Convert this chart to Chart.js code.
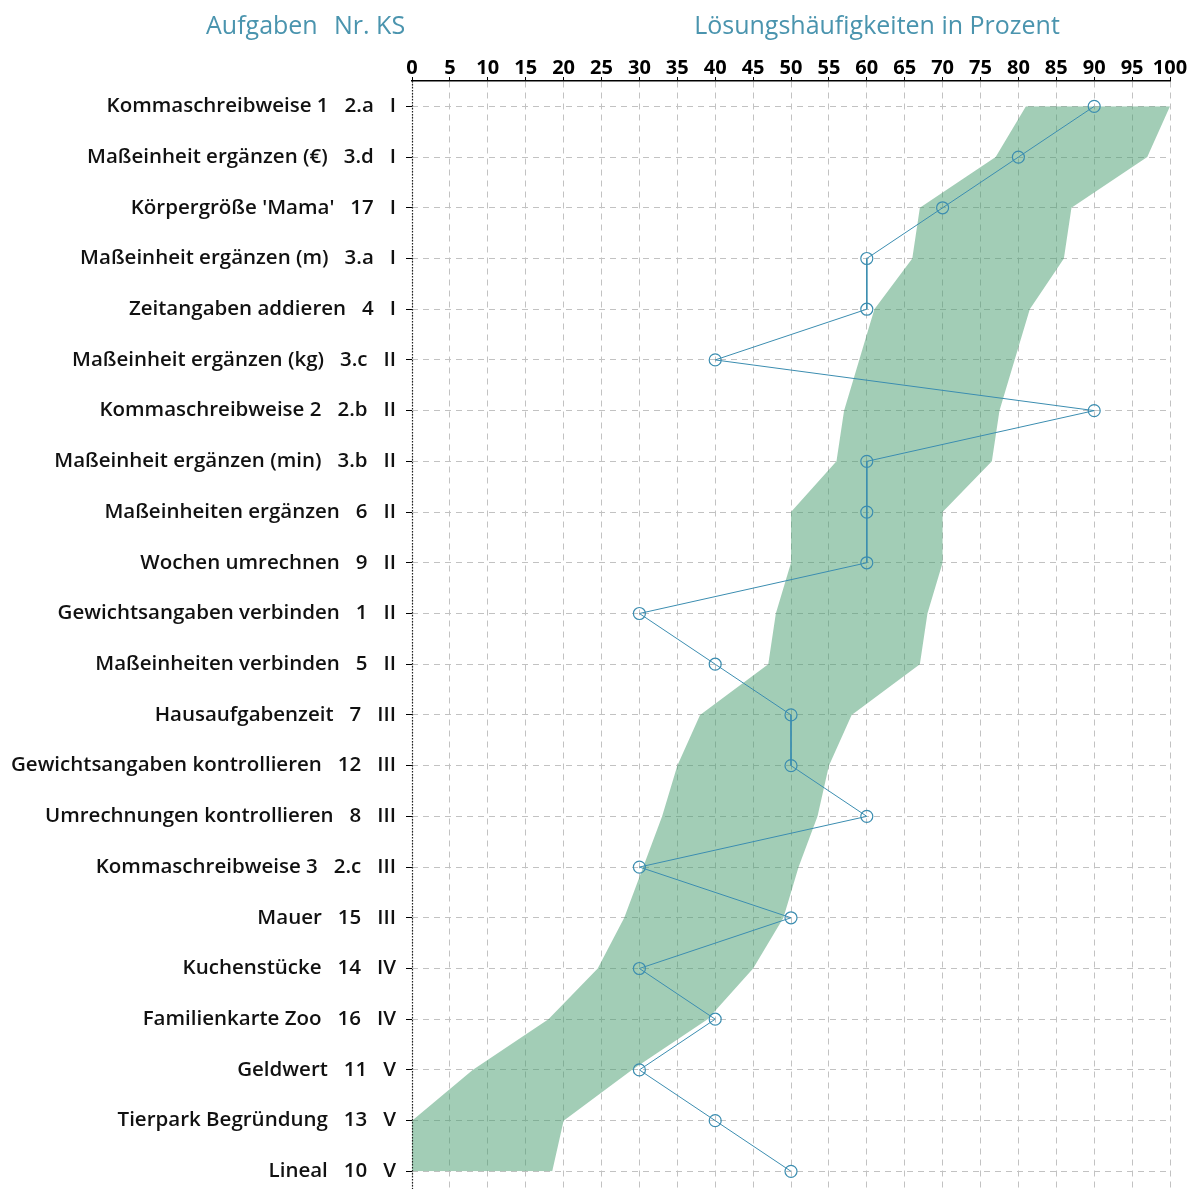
<!DOCTYPE html>
<html><head><meta charset="utf-8">
<script src="https://cdn.jsdelivr.net/npm/chart.js@4/dist/chart.umd.min.js"></script>
<style>html,body{margin:0;padding:0;overflow:hidden;background:#fff}#wrap{width:1194px;height:1219px;position:relative}</style>
</head><body><div id="wrap"><canvas id="c"></canvas></div>
<script>
const tasks = [
  "Kommaschreibweise 1", "Maßeinheit ergänzen (€)", "Körpergröße 'Mama'", "Maßeinheit ergänzen (m)",
  "Zeitangaben addieren", "Maßeinheit ergänzen (kg)", "Kommaschreibweise 2", "Maßeinheit ergänzen (min)",
  "Maßeinheiten ergänzen", "Wochen umrechnen", "Gewichtsangaben verbinden", "Maßeinheiten verbinden",
  "Hausaufgabenzeit", "Gewichtsangaben kontrollieren", "Umrechnungen kontrollieren", "Kommaschreibweise 3",
  "Mauer", "Kuchenstücke", "Familienkarte Zoo", "Geldwert", "Tierpark Begründung", "Lineal"
];
const taskNumbers = ["2.a","3.d","17","3.a","4","3.c","2.b","3.b","6","9","1","5","7","12","8","2.c","15","14","16","11","13","10"];
const competenceLevels = ["I","I","I","I","I","II","II","II","II","II","II","II","III","III","III","III","III","IV","IV","V","V","V"];
const solutionRate = [90,80,70,60,60,40,90,60,60,60,30,40,50,50,60,30,50,30,40,30,40,50];
const rangeLow  = [81,77,67,66,61,59,57,56,50,50,48,47,38,35,33,30.5,28,24.5,18,8,0,0];
const rangeHigh = [100,97,87,86,81.5,79.5,77.5,76.5,70,70,68,67,58,55,53.5,51,49,45,39,29,20,18.5];
const headerLeft = "Aufgaben";
const headerMid = "Nr. KS";
const headerRight = "Lösungshäufigkeiten in Prozent";

const rowLabels = tasks.map((t, i) => t + "   " + taskNumbers[i] + "   " + competenceLevels[i]);
const TEAL = "#4a94ae";
const LINE = "#3b8db0";

const headerPlugin = {
  id: 'header',
  afterDraw(chart) {
    const ctx = chart.ctx;
    ctx.save();
    ctx.fillStyle = TEAL;
    ctx.font = "500 25px 'Open Sans'";
    ctx.textBaseline = "middle";
    ctx.textAlign = "left";
    ctx.fillText(headerLeft, 206, 27);
    ctx.fillText(headerMid, 334, 27);
    ctx.textAlign = "center";
    ctx.fillText(headerRight, 877, 27);
    const a = chart.chartArea;
    ctx.strokeStyle = "#222";
    ctx.lineWidth = 1.2;
    ctx.setLineDash([1.5, 1.5]);
    ctx.beginPath();
    ctx.moveTo(a.left + 0.5, a.top);
    ctx.lineTo(a.left + 0.5, a.bottom);
    ctx.stroke();
    ctx.restore();
  }
};

new Chart(document.getElementById('c'), {
  type: 'line',
  data: {
    labels: rowLabels,
    datasets: [
      { label: 'low', data: rangeLow, borderWidth: 0, borderColor: 'rgba(0,0,0,0)', pointRadius: 0, fill: false, order: 3 },
      { label: 'high', data: rangeHigh, borderWidth: 0, borderColor: 'rgba(0,0,0,0)', pointRadius: 0,
        fill: '-1', backgroundColor: 'rgba(70,155,110,0.5)', order: 2 },
      { label: 'rate', data: solutionRate, borderColor: LINE, borderWidth: 1, pointRadius: 6,
        pointBackgroundColor: 'rgba(0,0,0,0)', pointBorderColor: LINE, pointBorderWidth: 1.2,
        fill: false, order: 1 }
    ]
  },
  options: {
    indexAxis: 'y',
    responsive: true,
    maintainAspectRatio: false,
    animation: false,
    devicePixelRatio: 1,
    layout: { padding: { top: 45, right: 24, left: 0, bottom: 0 } },
    plugins: { legend: { display: false }, tooltip: { enabled: false } },
    scales: {
      x: {
        type: 'linear', position: 'top', min: 0, max: 100,
        ticks: { stepSize: 5, color: '#000', padding: -3, maxRotation: 0, minRotation: 0, autoSkip: false,
                 font: { family: "'Open Sans'", size: 20, weight: 'bold' } },
        grid: { color: '#c2c2c2', lineWidth: 1, tickColor: '#000', tickLength: 4, drawTicks: true },
        border: { display: true, color: '#000', width: 1.5, dash: [6, 5] },
        afterFit(s) { s.height = 36; }
      },
      y: {
        type: 'category', offset: true,
        ticks: { color: '#111', padding: 10, autoSkip: false, font: { family: "'Open Sans'", size: 20.5, weight: '600' } },
        grid: { offset: false, color: '#c2c2c2', lineWidth: 1, tickColor: '#000', tickLength: 6 },
        border: { display: false, dash: [6, 5] },
        afterFit(s) { s.width = 412; }
      }
    }
  },
  plugins: [headerPlugin]
});
</script>
</body></html>
